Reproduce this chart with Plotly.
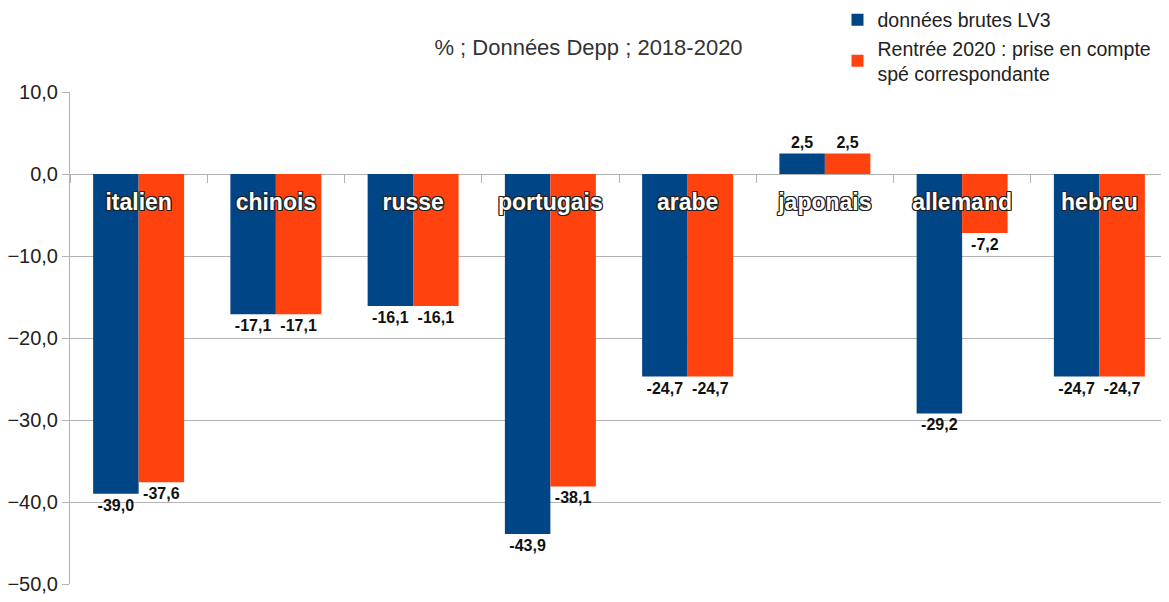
import plotly.graph_objects as go

# Données
langues = ["italien", "chinois", "russe", "portugais", "arabe", "japonais", "allemand", "hebreu"]
brutes_lv3 = [-39.0, -17.1, -16.1, -43.9, -24.7, 2.5, -29.2, -24.7]
rentree_2020 = [-37.6, -17.1, -16.1, -38.1, -24.7, 2.5, -7.2, -24.7]

nom_brutes = "données brutes LV3"
nom_rentree = "Rentrée 2020 : prise en compte<br>spé correspondante"
sous_titre = "% ; Données Depp ; 2018-2020"

BLEU = "#004586"
ORANGE = "#ff420e"
GRIS = "#b3b3b3"

y_min, y_max = -50, 10

# la page html ajoute une marge de 8 px autour de la figure
W, H = 1161, 594

fig = go.Figure()
for nom, valeurs, couleur in [(nom_brutes, brutes_lv3, BLEU), (nom_rentree, rentree_2020, ORANGE)]:
    fig.add_trace(
        go.Bar(
            x=langues,
            y=valeurs,
            name=nom,
            marker=dict(color=couleur, line=dict(width=0)),
            texttemplate="%{y:.1f}",
            textposition="outside",
            textfont=dict(family="Liberation Sans", size=16, color="#111", weight="bold"),
            cliponaxis=False,
        )
    )

contour = ("-1px -1px 0 #222, 1px -1px 0 #222, -1px 1px 0 #222, 1px 1px 0 #222, "
           "0 1px 0 #222, 0 -1px 0 #222, 1px 0 0 #222, -1px 0 0 #222")

fig.update_layout(
    width=W,
    height=H,
    margin=dict(l=62, r=1, t=84, b=18, autoexpand=False),
    paper_bgcolor="white",
    plot_bgcolor="white",
    separators=", ",
    barmode="group",
    bargap=0.337,
    bargroupgap=0,
    font=dict(family="Liberation Sans", color="#222"),
    title=dict(
        text=sous_titre,
        x=0.5,
        xref="container",
        xanchor="center",
        y=1 - 39 / H,
        yanchor="middle",
        yref="container",
        font=dict(size=22, color="#333"),
    ),
    legend=dict(
        x=0.699,
        y=1.186,
        xanchor="left",
        yanchor="top",
        font=dict(size=19.5, color="#222"),
        bgcolor="rgba(0,0,0,0)",
        tracegroupgap=0,
        itemwidth=30,
    ),
    xaxis=dict(
        anchor="free",
        position=(0 - y_min) / (y_max - y_min),
        side="bottom",
        showline=False,
        showgrid=False,
        ticks="outside",
        tickson="boundaries",
        ticklen=8,
        tickcolor=GRIS,
        ticklabelstandoff=12,
        tickfont=dict(family="Liberation Sans", size=23, color="white", weight="bold", shadow=contour),
    ),
    yaxis=dict(
        range=[y_min, y_max],
        dtick=10,
        tickformat=".1f",
        showgrid=True,
        gridcolor=GRIS,
        gridwidth=1,
        zeroline=True,
        zerolinecolor=GRIS,
        zerolinewidth=1,
        showline=True,
        linecolor=GRIS,
        ticks="outside",
        ticklen=7,
        tickcolor=GRIS,
        tickfont=dict(size=20, color="#222"),
    ),
)

fig.write_html("out.html")
